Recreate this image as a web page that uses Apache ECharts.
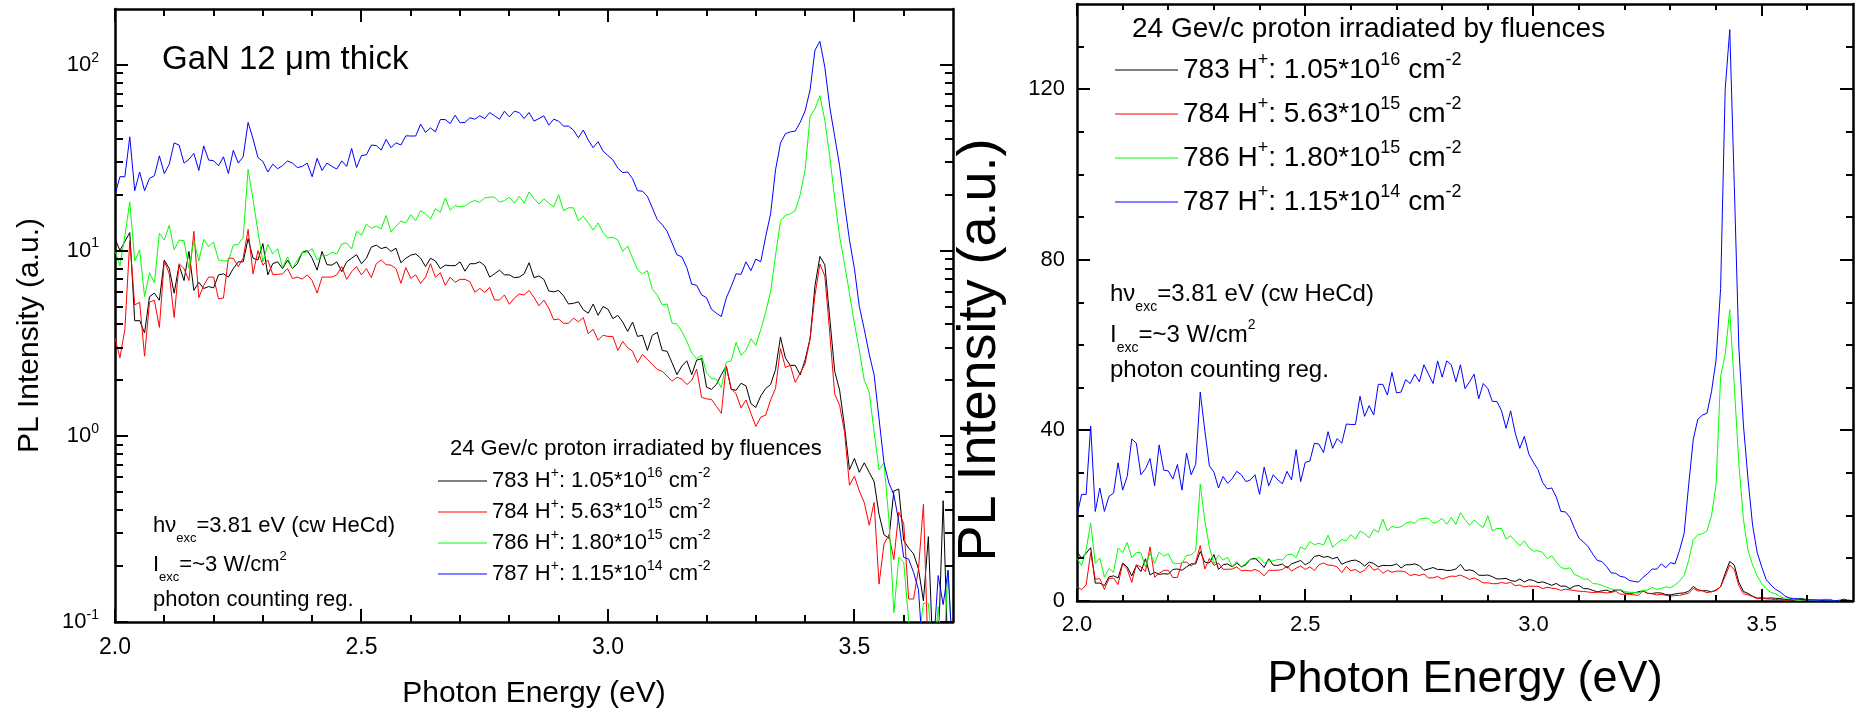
<!DOCTYPE html>
<html><head><meta charset="utf-8">
<script src="https://cdn.jsdelivr.net/npm/echarts@6/dist/echarts.min.js"></script>
<style>html,body{margin:0;padding:0;background:#fff}#c{width:1861px;height:714px}</style>
</head><body><div id="c"></div>
<script>
// ---------- data ----------
const energy = [
2.00,2.01,2.02,2.03,2.04,2.05,2.06,2.07,2.08,2.09,
2.10,2.11,2.12,2.13,2.14,2.15,2.16,2.17,2.18,2.19,
2.20,2.21,2.22,2.23,2.24,2.25,2.26,2.27,2.28,2.29,
2.30,2.31,2.32,2.33,2.34,2.35,2.36,2.37,2.38,2.39,
2.40,2.41,2.42,2.43,2.44,2.45,2.46,2.47,2.48,2.49,
2.50,2.51,2.52,2.53,2.54,2.55,2.56,2.57,2.58,2.59,
2.60,2.61,2.62,2.63,2.64,2.65,2.66,2.67,2.68,2.69,
2.70,2.71,2.72,2.73,2.74,2.75,2.76,2.77,2.78,2.79,
2.80,2.81,2.82,2.83,2.84,2.85,2.86,2.87,2.88,2.89,
2.90,2.91,2.92,2.93,2.94,2.95,2.96,2.97,2.98,2.99,
3.00,3.01,3.02,3.03,3.04,3.05,3.06,3.07,3.08,3.09,
3.10,3.11,3.12,3.13,3.14,3.15,3.16,3.17,3.18,3.19,
3.20,3.21,3.22,3.23,3.24,3.25,3.26,3.27,3.28,3.29,
3.30,3.31,3.32,3.33,3.34,3.35,3.36,3.37,3.38,3.39,
3.40,3.41,3.42,3.43,3.44,3.45,3.46,3.47,3.48,3.49,
3.50,3.51,3.52,3.53,3.54,3.55,3.56,3.57,3.58,3.59,
3.60,3.61,3.62,3.63,3.64,3.65,3.66,3.67,3.68,3.69,
3.70];
const pl783 = [
11.6,10,11.2,12.5,4.19,4.2,3.6,5.65,5.9,5.4,
8.9,8,5.9,8.35,6.9,9.9,6.1,6.75,6.25,6.4,
6.3,7.4,7.5,7.2,8,8.7,8.7,11.6,9.1,8.9,
10.9,7.4,8.5,8.7,8,8.9,8,8.5,9.8,10,
9.1,7.85,9.9,8.4,8.35,8.7,7.7,8.7,9.1,9.5,
8.5,9.1,10.45,10.7,10.25,10.45,9.9,10.3,8.6,9.1,
9.45,9.6,9.1,8.2,9.1,8.8,8,8.35,8.3,8.3,
8.7,7.75,8.5,8.5,8.7,8.3,7.2,7.5,7.85,7.4,
7.4,7.15,7.2,7.5,8.6,7.15,7.3,7,6.06,6,
6.1,5.7,5.16,5.2,5.3,4.8,4.6,5.15,4.48,5,
4.84,4.3,4.48,4.12,3.67,4.12,3.45,3.5,2.9,3.5,
3.63,2.9,2.87,2.49,2.15,2.39,2.55,2.15,2.57,2.62,
1.84,1.79,1.9,2.15,2.39,1.79,1.77,1.93,1.87,1.5,
1.43,1.65,1.81,1.9,2.29,3.42,2.64,2.41,2.41,2.14,
2.58,3.35,6.47,9.3,8.38,4.34,2.24,1.77,1.13,0.66,
0.76,0.64,0.72,0.64,0.57,0.38,0.295,0.282,0.508,0.52,
0.275,0.25,0.233,0.193,0.13,0.288,0.06,0.07,0.45,0.06,
0.08];
const pl784 = [
3.38,2.65,3.75,11.3,5.1,5.27,2.7,5.27,5.4,3.86,
8.8,7.5,4.36,8.5,8,6.9,12.7,5.58,6.5,7.2,
7.2,5.5,5.55,9.1,9.1,8.2,9.1,13,7.5,10,
8.35,8.9,7.44,7.44,7.5,8,7.08,7.2,7.03,7.4,
6.9,5.9,7.2,7.2,7.2,7.4,8.2,7,7.7,8.2,
7.4,8,7.15,8.5,8.9,8.4,8.35,8,6.66,8.1,
7.08,7.4,6.66,7.2,8.5,7.2,7.6,6.5,7.2,6.75,
7,7,6.8,5.96,6.26,5.96,6.34,5.42,5.42,5.77,
5.14,5.55,5.84,5.77,6.1,5.6,5.04,5.42,4.9,4.24,
4.28,4.06,4.06,4.33,4.14,4.36,3.57,3.77,3.29,3.5,
3.45,3.45,2.9,3.24,3,2.87,2.49,2.76,2.6,2.44,
2.29,2.24,2.11,1.98,2.08,2.03,1.9,2,2.3,1.62,
1.59,1.58,1.45,1.33,2.39,1.81,1.69,1.42,1.57,1.33,
1.13,1.27,1.3,1.57,1.81,2.97,2.35,2.41,1.95,2.19,
2.46,3.35,5.75,8.47,7.28,3.59,1.69,1.47,1.05,0.545,
0.61,0.508,0.44,0.332,0.44,0.16,0.263,0.295,0.217,0.39,
0.34,0.133,0.133,0.193,0.43,0.06,0.06,0.07,0.06,0.06,
0.06];
const pl786 = [
10,8.3,12,18.3,8.8,10.1,5.65,7.6,6.7,12.4,
11.4,13.7,10.1,11.4,11.3,8,11.3,8.8,11.5,10.5,
11.1,8.9,8.8,8.8,10.7,10.8,11.8,27.4,18.8,12.7,
8.7,10.8,9.6,10.25,8.1,9.25,8,8.9,9.75,9.8,
10.25,8.9,9.4,9.4,9.8,9.6,10.85,11,10.2,12.7,
12.1,13.9,13.2,13.55,13.1,15.45,12.6,13.55,14.4,14.1,
15.6,14.5,16.4,15.8,14.8,16.8,16.1,19.2,16.5,17.5,
17.2,17.4,18.2,18.6,18.2,19.2,19.4,19.4,18.2,18.6,
19.4,18,19.6,18,20.7,19.1,17.8,19,18,17.2,
20,16.4,17,17,14.5,15.3,14.1,12.9,14.1,12.5,
11.7,11.8,11.4,9.9,10.6,9.1,7.9,7.5,7.8,6.2,
5.77,5.1,5.16,4.07,4.02,3.67,3.25,2.81,2.62,2.73,
2.2,2.05,2.03,1.83,2.51,2.55,3.2,2.73,2.9,3.35,
3.09,3.76,4.65,6.03,9.44,14.4,15.5,15.8,16.4,20,
27.2,52.7,57.9,68.3,50.3,32.1,19.1,11.9,8.46,5.89,
4.04,2.9,2.0,1.73,1.05,0.66,0.72,0.356,0.112,0.223,
0.21,0.102,0.06,0.08,0.126,0.126,0.06,0.121,0.06,0.19,
0.06];
const pl787 = [
20,25,25,41,21,26.5,21,24.5,25.3,32.4,
26,29.2,38,37,29.6,31,33.4,27,36.6,30.7,
30.5,28.6,32,26,34.7,29.6,32,49,40,31.7,
30.2,26.5,29.2,27.6,28.7,30.4,29.6,28,28.4,29.6,
25,31.4,27,29.6,28.4,27.5,30.4,28.4,35.5,28,
32.5,32.8,37,36.8,34.8,39.7,35.8,38.1,37,41.5,
41.4,41.4,48,43.3,45.8,43.6,50.8,50.8,48.3,53.6,
48.8,49,51.9,51,53.2,51.4,55.4,53.2,51,56.3,
52.5,56.3,55.4,51.4,55.4,49.8,51.4,53.2,47.4,51,
49.8,46.8,46.8,44.6,40.5,44.6,39.4,35.8,38.6,34.4,
32.5,30.8,27.8,26.3,26.5,24.4,21,20.9,19.6,17,
14.7,13.8,12.7,11,9.5,9.25,8.1,6.6,6.5,5.77,
5.58,4.83,4.6,4.42,5.55,6.4,7.5,7.45,8.7,7.8,
9,8.7,11.9,15.8,27.2,37.9,42.6,43.6,44,49.1,
56.5,73.3,120,134,97.2,59.3,41.2,28.6,17.8,11.4,
8,5,3.77,2.77,2.14,1.24,0.72,0.56,0.485,0.348,
0.223,0.218,0.185,0.149,0.06,0.06,0.07,0.178,0.124,0.19,
0.06];

const sampleIds = ['783', '784', '786', '787'];
const fluenceMant = ['1.05', '5.63', '1.80', '1.15'];
const fluenceExp = ['16', '15', '15', '14'];
const seriesColors = ['#000000', '#ff0000', '#00ff00', '#0000ff'];

// tick values
const xMajorTicks = [2.0, 2.5, 3.0, 3.5];
const xMinorTicks = [2.1, 2.2, 2.3, 2.4, 2.6, 2.7, 2.8, 2.9, 3.1, 3.2, 3.3, 3.4, 3.6];
const logMajorTicks = [0.1, 1, 10, 100];
const logMinorTicks = [0.2,0.3,0.4,0.5,0.6,0.7,0.8,0.9,2,3,4,5,6,7,8,9,20,30,40,50,60,70,80,90];
const linMajorTicks = [0, 40, 80, 120];
const linMinorTicks = [10, 20, 30, 50, 60, 70, 90, 100, 110, 130];

const xTitle = 'Photon Energy (eV)';
const yTitle = 'PL Intensity (a.u.)';
const sampleTitle = 'GaN 12 μm thick';
const legendTitle = '24 Gev/c proton irradiated by fluences';
const noteLines = ['hν{sub|exc}=3.81 eV (cw HeCd)', 'I{sub|exc}=~3 W/cm{sup|2}', 'photon counting reg.'];

const E_MIN = 2.0, E_MAX = 3.7;
const LOG_MIN = 0.1, LOG_MAX = 200;
const LIN_MIN = 0, LIN_MAX = 140;

// ---------- chart ----------
const FONT = "'Liberation Sans', Arial, Helvetica, sans-serif";
const seriesData = [pl783, pl784, pl786, pl787];
const AXW = 2.5, TW = 2;
function axisLineStyle() { return {show: true, onZero: false, lineStyle: {color: '#000', width: AXW}}; }

function xAxesFor(gi, o) {
  const common = {gridIndex: gi, type: 'value', min: E_MIN, max: E_MAX, interval: 0.5,
    splitLine: {show: false}, axisTick: {show: false}, axisLine: axisLineStyle()};
  return [
    Object.assign({}, common, {
      position: 'bottom',
      axisLabel: {show: true, formatter: v => v.toFixed(1), color: '#000', fontFamily: FONT,
        fontSize: o.labelSize, margin: o.labelMargin, showMaxLabel: false},
      name: xTitle, nameLocation: 'middle', nameGap: o.nameGap,
      nameTextStyle: {color: '#000', fontFamily: FONT, fontSize: o.nameSize}
    }),
    Object.assign({}, common, {position: 'top', axisLabel: {show: false}})
  ];
}

function logLabel(v) {
  const l = Math.log10(v);
  const e = Math.round(l);
  if (Math.abs(l - e) > 0.01) return '';
  return '{b|10}{s|' + e + '}';
}

const yAxes = [
  {gridIndex: 0, type: 'log', logBase: 10, min: LOG_MIN, max: LOG_MAX, position: 'left',
   splitLine: {show: false}, axisTick: {show: false}, axisLine: axisLineStyle(),
   axisLabel: {formatter: logLabel, margin: 16, showMaxLabel: false,
     rich: {b: {fontSize: 22, fontFamily: FONT, color: '#000', lineHeight: 24},
            s: {fontSize: 14, fontFamily: FONT, color: '#000', lineHeight: 14, padding: [0, 0, 14, 0]}}},
   name: yTitle, nameLocation: 'middle', nameGap: 70,
   nameTextStyle: {color: '#000', fontFamily: FONT, fontSize: 30, padding: [0, 40, 0, 0]}},
  {gridIndex: 0, type: 'log', logBase: 10, min: LOG_MIN, max: LOG_MAX, position: 'right',
   splitLine: {show: false}, axisTick: {show: false}, axisLine: axisLineStyle(), axisLabel: {show: false}},
  {gridIndex: 1, type: 'value', min: LIN_MIN, max: LIN_MAX, interval: 40, position: 'left',
   splitLine: {show: false}, axisTick: {show: false}, axisLine: axisLineStyle(),
   axisLabel: {color: '#000', fontFamily: FONT, fontSize: 22, margin: 12, showMaxLabel: false},
   name: yTitle, nameLocation: 'middle', nameGap: 70,
   nameTextStyle: {color: '#000', fontFamily: FONT, fontSize: 54, padding: [0, 95, 0, 0]}},
  {gridIndex: 1, type: 'value', min: LIN_MIN, max: LIN_MAX, interval: 40, position: 'right',
   splitLine: {show: false}, axisTick: {show: false}, axisLine: axisLineStyle(), axisLabel: {show: false}}
];

const xAxes = xAxesFor(0, {labelSize: 23, labelMargin: 14, nameGap: 57, nameSize: 30})
  .concat(xAxesFor(1, {labelSize: 22, labelMargin: 13, nameGap: 56, nameSize: 45}));

const series = [];
[0, 1].forEach(p => {
  sampleIds.forEach((id, s) => {
    series.push({
      type: 'line', name: id,
      xAxisIndex: p === 0 ? 0 : 2, yAxisIndex: p === 0 ? 0 : 2,
      data: energy.map((e, i) => [e, seriesData[s][i]]),
      symbol: 'none', showSymbol: false, clip: true,
      lineStyle: {color: seriesColors[s], width: 1},
      itemStyle: {color: seriesColors[s]},
      animation: false
    });
  });
});

// inward tick marks on all four sides, positioned through the axes' own scales
function xTickSeries(name, xi, yi, values, len, yLo, yHi) {
  return {
    type: 'custom', name: name, xAxisIndex: xi, yAxisIndex: yi, silent: true, animation: false, z: 5, clip: false,
    data: values.map(v => [v, yLo]),
    renderItem: (params, api) => {
      const e = api.value(0);
      const b = api.coord([e, yLo]), t = api.coord([e, yHi]);
      const x = Math.round(b[0]) - TW / 2;
      return {type: 'group', children: [
        {type: 'rect', shape: {x: x, y: b[1] - len, width: TW, height: len}, style: {fill: '#000'}},
        {type: 'rect', shape: {x: x, y: t[1], width: TW, height: len}, style: {fill: '#000'}}
      ]};
    }
  };
}
function yTickSeries(name, xi, yi, values, len, xLo, xHi) {
  return {
    type: 'custom', name: name, xAxisIndex: xi, yAxisIndex: yi, silent: true, animation: false, z: 5, clip: false,
    data: values.map(v => [xLo, v]),
    renderItem: (params, api) => {
      const v = api.value(1);
      const l = api.coord([xLo, v]), r = api.coord([xHi, v]);
      const y = Math.round(l[1]) - TW / 2;
      return {type: 'group', children: [
        {type: 'rect', shape: {x: l[0], y: y, width: len, height: TW}, style: {fill: '#000'}},
        {type: 'rect', shape: {x: r[0] - len, y: y, width: len, height: TW}, style: {fill: '#000'}}
      ]};
    }
  };
}
series.push(
  xTickSeries('tickA', 0, 0, xMajorTicks, 13, LOG_MIN, LOG_MAX),
  xTickSeries('tickB', 0, 0, xMinorTicks, 7, LOG_MIN, LOG_MAX),
  yTickSeries('tickC', 0, 0, logMajorTicks, 13, E_MIN, E_MAX),
  yTickSeries('tickD', 0, 0, logMinorTicks, 8, E_MIN, E_MAX),
  xTickSeries('tickE', 2, 2, xMajorTicks, 12, LIN_MIN, LIN_MAX),
  xTickSeries('tickF', 2, 2, xMinorTicks, 6, LIN_MIN, LIN_MAX),
  yTickSeries('tickG', 2, 2, linMajorTicks, 13, E_MIN, E_MAX),
  yTickSeries('tickH', 2, 2, linMinorTicks, 7, E_MIN, E_MAX)
);

function legendText(name) {
  const i = sampleIds.indexOf(name);
  return name + ' H{sup|+}: ' + fluenceMant[i] + '*10{sup|' + fluenceExp[i] + '} cm{sup|-2}';
}
function legendFor(left, top, fs, supFs, supPad, gap, w) {
  return {
    data: sampleIds, orient: 'vertical', left: left, top: top, padding: 0,
    itemGap: gap, itemWidth: w, itemHeight: 1, icon: 'rect', selectedMode: false,
    formatter: legendText,
    textStyle: {fontSize: fs, fontFamily: FONT, color: '#000', lineHeight: fs + 2,
      rich: {sup: {fontSize: supFs, fontFamily: FONT, color: '#000', lineHeight: supFs, padding: [0, 0, supPad, 0]}}}
  };
}
function note(x, y, fs, subFs, subPad, supPad, txt) {
  return {
    type: 'text', x: x, y: y, silent: true,
    style: {text: txt, fill: '#000', fontSize: fs, fontFamily: FONT, align: 'left', verticalAlign: 'middle',
      rich: {
        sub: {fontSize: subFs, fontFamily: FONT, fill: '#000', lineHeight: subFs, padding: [subPad, 0, 0, 0]},
        sup: {fontSize: subFs, fontFamily: FONT, fill: '#000', lineHeight: subFs, padding: [0, 0, supPad, 0]}
      }}
  };
}
const graphic = [
  {type: 'text', x: 162, y: 60, silent: true,
   style: {text: sampleTitle, fill: '#000', fontSize: 33, fontFamily: FONT, align: 'left', verticalAlign: 'middle'}},
  {type: 'text', x: 450, y: 449, silent: true,
   style: {text: legendTitle, fill: '#000', fontSize: 22, fontFamily: FONT, align: 'left', verticalAlign: 'middle'}},
  note(153, 526, 22, 13, 24, 18, noteLines[0]),
  note(153, 565, 22, 13, 24, 18, noteLines[1]),
  note(153, 600, 22, 13, 24, 18, noteLines[2]),
  {type: 'text', x: 1132, y: 29, silent: true,
   style: {text: legendTitle, fill: '#000', fontSize: 28, fontFamily: FONT, align: 'left', verticalAlign: 'middle'}},
  note(1110, 294, 24, 14, 26, 20, noteLines[0]),
  note(1110, 335, 24, 14, 26, 20, noteLines[1]),
  note(1110, 370, 24, 14, 26, 20, noteLines[2])
];

const option = {
  animation: false,
  backgroundColor: '#fff',
  grid: [
    {left: 115, top: 9, width: 838, height: 617},
    {left: 1077, top: 4, width: 776, height: 597}
  ],
  xAxis: xAxes,
  yAxis: yAxes,
  legend: [
    legendFor(438, 466, 22, 14, 16, 1, 49),
    legendFor(1115, 51, 28, 18, 20, 6, 63)
  ],
  graphic: graphic,
  series: series
};

const chart = echarts.init(document.getElementById('c'), null, {renderer: 'canvas', width: 1861, height: 714});
chart.setOption(option);
</script>
</body></html>
